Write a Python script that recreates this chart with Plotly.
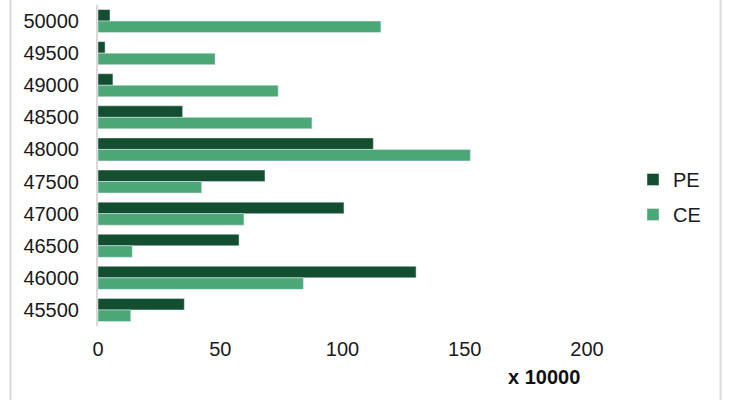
import plotly.graph_objects as go

strikes = ["50000", "49500", "49000", "48500", "48000", "47500", "47000", "46500", "46000", "45500"]
pe_values = [4.9, 2.9, 6.1, 34.6, 112.6, 68.3, 100.6, 57.7, 130.1, 35.3]
ce_values = [115.7, 47.9, 73.7, 87.5, 152.3, 42.4, 59.7, 14.0, 84.0, 13.4]
x_ticks = [0, 50, 100, 150, 200]

W, H = 732, 400
L, R, T, B = 98, 145, 5, 74
PW, PH = W - L - R, H - T - B

def px_x(p):
    return (p - L) / PW

def px_y(p):
    return (H - B - p) / PH

FONT = "Liberation Sans, Arial, sans-serif"
PE_COLOR = "#134E31"
CE_COLOR = "#4CA776"
FS = 20

fig = go.Figure()
fig.add_trace(go.Bar(y=strikes, x=pe_values, name="PE", orientation="h",
                     marker=dict(color=PE_COLOR), legendgroup="pe"))
fig.add_trace(go.Bar(y=strikes, x=ce_values, name="CE", orientation="h",
                     marker=dict(color=CE_COLOR), legendgroup="ce"))

fig.update_layout(
    width=W, height=H,
    margin=dict(l=L, r=R, t=T, b=B, pad=0),
    paper_bgcolor="white", plot_bgcolor="white",
    barmode="group", bargap=0.283, bargroupgap=0,
    font=dict(family=FONT, size=FS, color="#1a1a1a"),
    showlegend=True,
    legend=dict(x=px_x(633), xanchor="left", y=px_y(197), yanchor="middle",
                traceorder="grouped", tracegroupgap=6,
                font=dict(size=FS, family=FONT, color="#1a1a1a"),
                bgcolor="rgba(0,0,0,0)"),
    xaxis=dict(range=[0, 200], tickvals=x_ticks, showgrid=False, zeroline=False,
               showline=False, ticks="", ticklabelstandoff=9,
               tickfont=dict(size=FS, family=FONT, color="#1a1a1a")),
    yaxis=dict(type="category", categoryorder="array", categoryarray=strikes,
               autorange="reversed", showgrid=False, zeroline=False,
               showline=True, linecolor="#d9d9d9", linewidth=2, ticks="",
               ticklabelstandoff=13,
               tickfont=dict(size=FS, family=FONT, color="#1a1a1a")),
    annotations=[dict(text="<b>x 10000</b>", xref="paper", yref="paper",
                      x=px_x(544), y=px_y(377), xanchor="center", yanchor="middle",
                      showarrow=False, font=dict(size=FS, family=FONT, color="#111"))],
    shapes=[
        dict(type="line", xref="paper", yref="paper", x0=px_x(10.5), x1=px_x(10.5),
             y0=px_y(0), y1=px_y(400), line=dict(color="#d9d9d9", width=2)),
        dict(type="line", xref="paper", yref="paper", x0=px_x(720.5), x1=px_x(720.5),
             y0=px_y(0), y1=px_y(400), line=dict(color="#d9d9d9", width=2)),
    ],
)

fig.write_html("out.html")
